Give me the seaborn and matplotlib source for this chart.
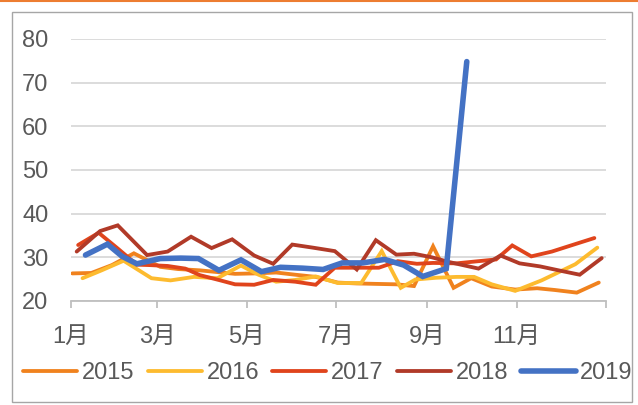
import matplotlib
matplotlib.use("Agg")
import matplotlib.pyplot as plt
from matplotlib.patches import Rectangle
from matplotlib.lines import Line2D
import pandas as pd
import seaborn as sns

# day-of-year positions and values
DAYS_2015 = [1, 14, 28, 43, 61, 73, 88, 100, 112, 126, 140, 153, 167, 182, 195, 208,
             222, 234, 247, 261, 273, 287, 303, 318, 330, 345, 360]
VALS_2015 = [26.3, 26.4, 28.2, 30.9, 27.8, 27.3, 27.0, 26.6, 26.2, 26.3, 26.5, 26.0, 25.5,
             24.2, 24.0, 23.9, 23.8, 23.4, 32.5, 23.0, 25.2, 23.3, 22.6, 22.9, 22.5, 21.9, 24.2]

DAYS_2016 = [8, 21, 36, 55, 68, 84, 100, 116, 128, 140, 153, 167, 182, 198, 212, 225,
             235, 249, 263, 275, 287, 303, 321, 344, 359]
VALS_2016 = [25.2, 27.0, 29.2, 25.2, 24.7, 25.5, 25.2, 28.1, 26.0, 24.4, 24.8, 25.6, 24.1,
             24.1, 31.4, 23.0, 24.9, 25.3, 25.5, 25.5, 23.8, 22.3, 24.7, 28.4, 32.2]

DAYS_2017 = [5, 19, 32, 45, 54, 66, 78, 88, 102, 112, 125, 138, 153, 167, 180, 193,
             210, 223, 236, 247, 263, 278, 290, 301, 314, 328, 342, 357]
VALS_2017 = [32.8, 35.6, 32.0, 28.3, 28.2, 28.0, 27.4, 25.9, 24.7, 23.8, 23.7, 24.8, 24.4,
             23.7, 27.6, 27.6, 27.6, 29.1, 28.5, 28.7, 28.6, 29.1, 29.5, 32.7, 30.2, 31.3,
             32.8, 34.4]

DAYS_2018 = [4, 20, 32, 52, 66, 82, 96, 110, 125, 138, 151, 165, 180, 195, 208, 222,
             234, 246, 258, 278, 293, 306, 320, 334, 347, 362]
VALS_2018 = [31.3, 36.0, 37.3, 30.5, 31.3, 34.7, 32.1, 34.1, 30.4, 28.5, 32.9, 32.2, 31.4,
             27.2, 33.9, 30.6, 30.8, 30.0, 28.9, 27.4, 30.4, 28.6, 27.9, 26.9, 26.0, 29.8]

DAYS_2019 = [10, 25, 35, 45, 61, 75, 87, 101, 116, 130, 143, 158, 172, 185, 199, 214,
             227, 240, 256, 270]
VALS_2019 = [30.5, 33.0, 30.2, 28.5, 29.7, 29.8, 29.7, 27.0, 29.4, 26.7, 27.7, 27.5, 27.2,
             28.7, 28.7, 29.5, 28.2, 25.6, 27.4, 74.8]

YEARS = ["2015", "2016", "2017", "2018", "2019"]
COLORS = ["#F0821E", "#FDBB2F", "#E0441C", "#B13A28", "#4472C4"]
MONTH_TICKS = [0, 59, 120, 181, 243, 304, 365]
MONTH_LABELS = ["1月", "3月", "5月", "7月", "9月", "11月", ""]

series = {
    "2015": (DAYS_2015, VALS_2015),
    "2016": (DAYS_2016, VALS_2016),
    "2017": (DAYS_2017, VALS_2017),
    "2018": (DAYS_2018, VALS_2018),
    "2019": (DAYS_2019, VALS_2019),
}

sns.set_theme(style="white")
plt.rcParams["font.family"] = ["Liberation Sans", "Noto Sans CJK SC", "DejaVu Sans"]

fig = plt.figure(figsize=(6.38, 4.05), dpi=100)
ax = fig.add_axes([0.111, 0.257, 0.839, 0.647])

for year, color in zip(YEARS, COLORS):
    days, vals = series[year]
    df = pd.DataFrame({"day": days, "value": vals})
    lw = 4.0 if year == "2019" else 2.75
    sns.lineplot(data=df, x="day", y="value", color=color, linewidth=lw, ax=ax,
                 legend=False, solid_capstyle="round", solid_joinstyle="miter")

ax.set_xlim(0, 365)
ax.set_ylim(20, 80)
ax.set_yticks(range(20, 81, 10))
ax.set_xticks(MONTH_TICKS)
ax.set_xticklabels(MONTH_LABELS)
ax.set_xlabel("")
ax.set_ylabel("")

ax.yaxis.grid(True, color="#D9D9D9", linewidth=1.3)
ax.set_axisbelow(True)
for side in ["left", "right", "top"]:
    ax.spines[side].set_visible(False)
ax.spines["bottom"].set_color("#BFBFBF")
ax.spines["bottom"].set_linewidth(1.3)

ax.tick_params(axis="y", length=0, pad=16, labelsize=17, labelcolor="#595959")
ax.tick_params(axis="x", direction="out", length=5, width=1.3, color="#BFBFBF",
               pad=13, labelsize=17, labelcolor="#595959", bottom=True)

handles = [Line2D([0], [0], color=c, linewidth=(4.0 if y == "2019" else 2.75),
                  solid_capstyle="round") for y, c in zip(YEARS, COLORS)]
leg = fig.legend(handles, YEARS, loc="center", bbox_to_anchor=(0.514, 0.079), ncol=5,
                 frameon=False, fontsize=17, handlelength=2.3, handletextpad=0.2,
                 columnspacing=0.55, borderaxespad=0)
for t in leg.get_texts():
    t.set_color("#595959")

# outer chart frame and top accent line
fig.patches.append(Rectangle((12 / 638, 3 / 405), 620 / 638, 390 / 405,
                             transform=fig.transFigure, fill=False,
                             edgecolor="#A6A6A6", linewidth=1.0))
fig.lines.append(Line2D([0, 1], [1 - 1 / 405, 1 - 1 / 405], transform=fig.transFigure,
                        color="#ED7D31", linewidth=1.5))

fig.savefig("out.png", dpi=100)
